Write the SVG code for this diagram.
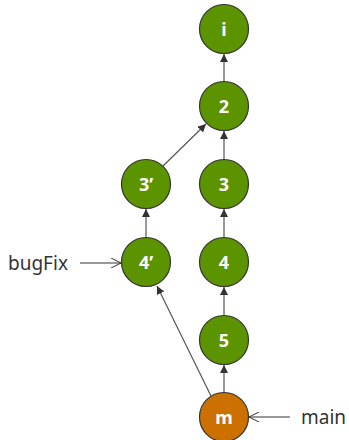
<svg xmlns="http://www.w3.org/2000/svg" width="349" height="440" viewBox="0 0 349 440">
  <style>
    .commit { stroke: #333; stroke-width: 1.2; }
    .green { fill: #5c9400; }
    .orange { fill: #cc7000; }
    .lbl { font-family: "Noto Sans", "Open Sans", sans-serif; font-size: 18px; font-weight: bold; fill: #fff; text-anchor: middle; }
    .ref { font-family: "Noto Sans", "Open Sans", sans-serif; font-size: 19px; fill: #333; }
    .edge { stroke: #555; stroke-width: 1.2; fill: none; }
    .ptr { stroke: #333; stroke-width: 1; fill: none; }
  </style>
  <defs>
    <marker id="head" viewBox="0 0 10 10" refX="10" refY="5" markerWidth="8" markerHeight="8" markerUnits="userSpaceOnUse" orient="auto">
      <path d="M0,0 L10,5 L0,10 z" fill="#333"/>
    </marker>
    <marker id="open" viewBox="0 0 10 10" refX="10" refY="5" markerWidth="10" markerHeight="10" markerUnits="userSpaceOnUse" orient="auto">
      <path d="M0,0 L10,5 L0,10" fill="none" stroke="#333" stroke-width="1"/>
    </marker>
  </defs>

  <g id="connectors">
    <line class="edge" x1="224" y1="82" x2="224" y2="54" marker-end="url(#head)"/>
    <line class="edge" x1="224" y1="159" x2="224" y2="131" marker-end="url(#head)"/>
    <line class="edge" x1="224" y1="237" x2="224" y2="209" marker-end="url(#head)"/>
    <line class="edge" x1="224" y1="315" x2="224" y2="287" marker-end="url(#head)"/>
    <line class="edge" x1="224" y1="392" x2="224" y2="365" marker-end="url(#head)"/>
    <line class="edge" x1="146" y1="237" x2="146" y2="209" marker-end="url(#head)"/>
    <line class="edge" x1="163" y1="166" x2="206" y2="124" marker-end="url(#head)"/>
    <line class="edge" x1="211" y1="396" x2="157" y2="286" marker-end="url(#head)"/>
    <line class="ptr" x1="80" y1="263" x2="121" y2="263" marker-end="url(#open)"/>
    <line class="ptr" x1="290" y1="417" x2="249" y2="417" marker-end="url(#open)"/>
  </g>

  <g id="node-i">
    <circle class="commit green" cx="224" cy="29" r="24.5"/>
    <text class="lbl" x="224" y="35.5">i</text>
  </g>
  <g id="node-2">
    <circle class="commit green" cx="224" cy="106" r="24.5"/>
    <text class="lbl" x="224" y="112.5">2</text>
  </g>
  <g id="node-3p">
    <circle class="commit green" cx="146" cy="184" r="24.5"/>
    <text class="lbl" x="146" y="190.5">3’</text>
  </g>
  <g id="node-3">
    <circle class="commit green" cx="224" cy="184" r="24.5"/>
    <text class="lbl" x="224" y="190.5">3</text>
  </g>
  <g id="node-4p">
    <circle class="commit green" cx="146" cy="262" r="24.5"/>
    <text class="lbl" x="146" y="268.5">4’</text>
  </g>
  <g id="node-4">
    <circle class="commit green" cx="224" cy="262" r="24.5"/>
    <text class="lbl" x="224" y="268.5">4</text>
  </g>
  <g id="node-5">
    <circle class="commit green" cx="224" cy="340" r="24.5"/>
    <text class="lbl" x="224" y="346.5">5</text>
  </g>
  <g id="node-m">
    <circle class="commit orange" cx="224" cy="417" r="24.5"/>
    <text class="lbl" x="224" y="423.5">m</text>
  </g>

  <g id="ref-bugFix">
    <text class="ref" x="8" y="270">bugFix</text>
  </g>
  <g id="ref-main">
    <text class="ref" x="301" y="424">main</text>
  </g>
</svg>
